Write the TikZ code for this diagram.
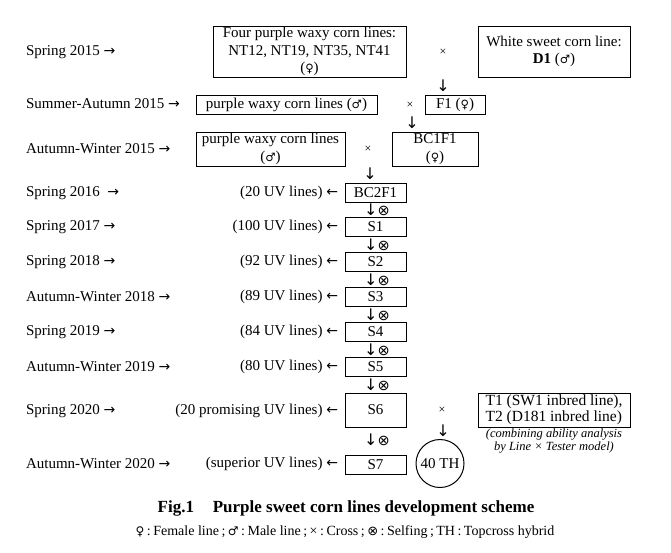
\documentclass[tikz,border=0pt]{standalone}
\usepackage{fontspec}
\setmainfont{Liberation Serif}
\newfontfamily\symfont{DejaVu Sans}
\newcommand{\slf}{{\symfont\fontsize{13}{13}\selectfont ⊗}}
\newcommand{\bigslf}{{\symfont\fontsize{14.5}{14.5}\selectfont ⊗}}
\newcommand{\dn}{{\symfont\fontsize{16}{16}\selectfont ↓}}
\newcommand{\ra}{{\symfont\fontsize{14}{14}\selectfont →}}
\newcommand{\la}{{\symfont\fontsize{14}{14}\selectfont ←}}
\newcommand{\fem}{{\symfont\fontsize{11.5}{11.5}\selectfont ♀}}
\newcommand{\mal}{{\symfont\fontsize{11.5}{11.5}\selectfont ♂}}
\begin{document}
\begin{tikzpicture}[x=1pt,y=-1pt,
  every node/.style={font=\fontsize{15}{17.5}\selectfont, inner sep=0pt, outer sep=0pt},
  box/.style={draw, line width=0.9pt, minimum height=19pt, align=center},
  lbl/.style={anchor=west},
  cnt/.style={anchor=east},
  crs/.style={font=\fontsize{12}{12}\selectfont}]
\useasboundingbox (0,0) rectangle (671,552);
% row 1
\node[lbl] (l1) at (26,52) {Spring 2015 \ra};
\node[box, minimum width=193pt, minimum height=51pt] (b1) at (309.5,51.5) {Four purple waxy corn lines:\\NT12, NT19, NT35, NT41\\(\fem)};
\node[crs] (x1) at (443,52) {×};
\node[box, minimum width=152pt, minimum height=51pt] (b2) at (554,51.5) {White sweet corn line:\\\textbf{D1} (\mal)};
\node (a1) at (443,86) {\dn};
% row 2
\node[lbl] (l2) at (26,104) {Summer-Autumn 2015 \ra};
\node[box, minimum width=181pt] (b3) at (286.5,105) {purple waxy corn lines (\mal)};
\node[crs] (x2) at (410,105) {×};
\node[box, minimum width=60pt] (b4) at (455,105) {F1 (\fem)};
\node (a2) at (412,123) {\dn};
% row 3
\node[lbl] (l3) at (26,149) {Autumn-Winter 2015 \ra};
\node[box, minimum width=149pt, minimum height=34pt] (b5) at (270.5,149) {purple waxy corn lines\\(\mal)};
\node[crs] (x3) at (368,149) {×};
\node[box, minimum width=86pt, minimum height=34pt] (b6) at (435,149) {BC1F1\\(\fem)};
\node (a3) at (370,174) {\dn};
% selfing generations
\foreach \y/\lab/\cnt/\bx/\nm in {
  193/{Spring 2016\ \ \ra}/{(20 UV lines) \la}/BC2F1/g0,
  227/{Spring 2017 \ra}/{(100 UV lines) \la}/S1/g1,
  262/{Spring 2018 \ra}/{(92 UV lines) \la}/S2/g2,
  297/{Autumn-Winter 2018 \ra}/{(89 UV lines) \la}/S3/g3,
  332/{Spring 2019 \ra}/{(84 UV lines) \la}/S4/g4,
  367/{Autumn-Winter 2019 \ra}/{(80 UV lines) \la}/S5/g5}{
  \node[lbl] (l\nm) at (26,\y) {\lab};
  \node[cnt] (c\nm) at (338,\y) {\cnt};
  \node[box, minimum width=61pt] (\nm) at (375.5,\y) {\bx};
}
\foreach \y/\nm in {209.5/s1,244.5/s2,279.5/s3,314.5/s4,349.5/s5,384.5/s6,440/s7}{
  \node (\nm) at (377,\y) {\dn\bigslf};
}
% Spring 2020
\node[lbl] (l6) at (26,411) {Spring 2020 \ra};
\node[cnt] (c6) at (338,411) {(20 promising UV lines) \la};
\node[box, minimum width=61pt, minimum height=34pt] (g6) at (375.5,410) {S6};
\node[crs] (x4) at (442,410) {×};
\node[box, minimum width=152pt, minimum height=34pt, align=left, font=\fontsize{15.5}{16.5}\selectfont] (t1) at (554,410) {T1 (SW1 inbred line),\\T2 (D181 inbred line)};
\node[font=\itshape\fontsize{12.5}{12.5}\selectfont, align=center] (note) at (554,441) {(combining ability analysis\\by Line × Tester model)};
\node (a4) at (443,431) {\dn};
% Autumn-Winter 2020
\node[lbl] (l7) at (26,464) {Autumn-Winter 2020 \ra};
\node[cnt] (c7) at (338,464) {(superior UV lines) \la};
\node[box, minimum width=61pt] (g7) at (375.5,464.5) {S7};
\node[draw, circle, line width=1pt, minimum size=48pt] (th) at (440,463.5) {40 TH};
% caption
\node[font=\bfseries\fontsize{17}{20}\selectfont] (cap) at (346,508) {Fig.1\hspace{1.1em}Purple sweet corn lines development scheme};
\node[font=\fontsize{14}{16}\selectfont] (leg) at (345,532) {{\symfont\fontsize{12}{12}\selectfont ♀}\hspace{2.5pt}:\hspace{2.5pt}Female line\hspace{2.5pt};\hspace{2.5pt}{\symfont\fontsize{12}{12}\selectfont ♂}\hspace{2.5pt}:\hspace{2.5pt}Male line\hspace{2.5pt};\hspace{2.5pt}×\hspace{2.5pt}:\hspace{2.5pt}Cross\hspace{2.5pt};\hspace{2.5pt}\slf\hspace{2.5pt}:\hspace{2.5pt}Selfing\hspace{2.5pt};\hspace{2.5pt}TH\hspace{2.5pt}:\hspace{2.5pt}Topcross hybrid};
\end{tikzpicture}
\end{document}
